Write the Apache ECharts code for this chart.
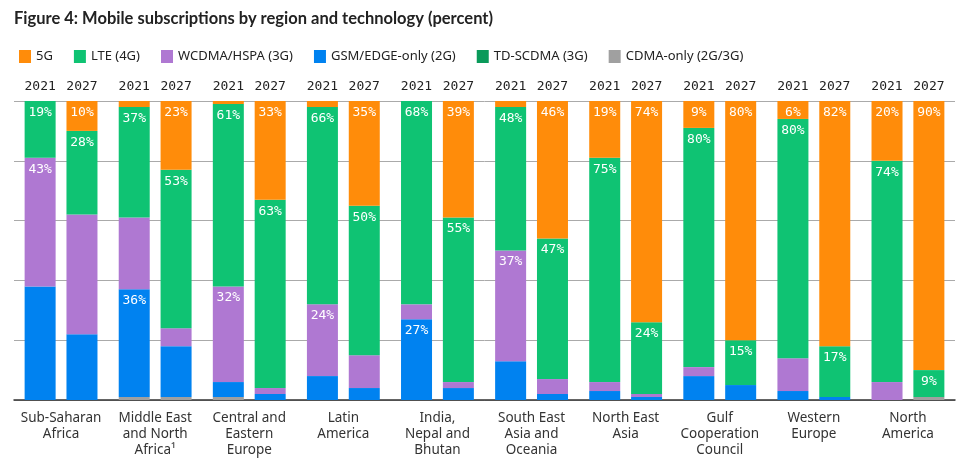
<!DOCTYPE html>
<html><head><meta charset="utf-8">
<script src="https://cdn.jsdelivr.net/npm/echarts@6/dist/echarts.min.js"></script>
<style>html,body{margin:0;padding:0;background:#fff}#c{width:960px;height:463px}</style>
</head><body><div id="c"></div>
<script>
const regions = ['Sub-Saharan\nAfrica','Middle East\nand North\nAfrica¹','Central and\nEastern\nEurope','Latin\nAmerica','India,\nNepal and\nBhutan','South East\nAsia and\nOceania','North East\nAsia','Gulf\nCooperation\nCouncil','Western\nEurope','North\nAmerica'];
const years = ['2021','2027'];
const techNames = ['5G','LTE (4G)','WCDMA/HSPA (3G)','GSM/EDGE-only (2G)','TD-SCDMA (3G)','CDMA-only (2G/3G)'];

// 2021 values (percent)
const g5_2021    = [0, 2, 1, 2, 0, 2, 19, 9, 6, 20];
const lte_2021   = [19, 37, 61, 66, 68, 48, 75, 80, 80, 74];
const wcdma_2021 = [43, 24, 32, 24, 5, 37, 3, 3, 11, 6];
const gsm_2021   = [38, 36, 5, 8, 27, 13, 3, 8, 3, 0];
const td_2021    = [0, 0, 0, 0, 0, 0, 0, 0, 0, 0];
const cdma_2021  = [0, 1, 1, 0, 0, 0, 0, 0, 0, 0];
// 2027 values (percent)
const g5_2027    = [10, 23, 33, 35, 39, 46, 74, 80, 82, 90];
const lte_2027   = [28, 53, 63, 50, 55, 47, 24, 15, 17, 9];
const wcdma_2027 = [40, 6, 2, 11, 2, 5, 1, 0, 0, 0];
const gsm_2027   = [22, 17, 2, 4, 4, 2, 1, 5, 1, 0];
const td_2027    = [0, 0, 0, 0, 0, 0, 0, 0, 0, 0];
const cdma_2027  = [0, 1, 0, 0, 0, 0, 0, 0, 0, 1];

// which segments carry a value label (region indices)
const labeled = {
  '2021': {g5:[6,7,8,9], lte:[0,1,2,3,4,5,6,7,8,9], wcdma:[0,2,3,5], gsm:[1,4], td:[], cdma:[]},
  '2027': {g5:[0,1,2,3,4,5,6,7,8,9], lte:[0,1,2,3,4,5,6,7,8,9], wcdma:[], gsm:[], td:[], cdma:[]}
};

const colors = {g5:'#FF8C0A', lte:'#0FC373', wcdma:'#AF78D2', gsm:'#0082F0', td:'#0A9A5A', cdma:'#A0A0A0'};
const dataSets = {
  '2021': {g5:g5_2021, lte:lte_2021, wcdma:wcdma_2021, gsm:gsm_2021, td:td_2021, cdma:cdma_2021},
  '2027': {g5:g5_2027, lte:lte_2027, wcdma:wcdma_2027, gsm:gsm_2027, td:td_2027, cdma:cdma_2027}
};
const keyName = {g5:techNames[0], lte:techNames[1], wcdma:techNames[2], gsm:techNames[3], td:techNames[4], cdma:techNames[5]};
const stackOrder = ['cdma','gsm','wcdma','td','lte','g5'];

const series = [];
years.forEach(function(y){
  stackOrder.forEach(function(k){
    series.push({
      name: keyName[k], type:'bar', stack:y, barWidth:31, barGap:'35%',
      itemStyle:{color:colors[k]},
      data: dataSets[y][k].map(function(v,i){
        const show = labeled[y][k].indexOf(i) >= 0;
        return {value:v, label:{show:show}};
      }),
      label:{position:'insideTop', distance:5, color:'#fff', fontFamily:'DejaVu Sans Mono', fontSize:13, formatter:'{c}%'}
    });
  });
  series.push({
    name:'year'+y, type:'bar', stack:y, barWidth:31, barGap:'35%',
    data: regions.map(function(){return 0;}),
    itemStyle:{color:'transparent'},
    label:{show:true, position:'top', distance:8, formatter:y, color:'#222', fontFamily:'DejaVu Sans Mono', fontSize:13}
  });
});

const chart = echarts.init(document.getElementById('c'), null, {renderer:'canvas'});
chart.setOption({
  animation:false,
  backgroundColor:'#fff',
  title:{text:'Figure 4: Mobile subscriptions by region and technology (percent)', left:9, top:5,
    textStyle:{fontFamily:'Lato', fontSize:16.5, fontWeight:'bold', color:'#222'}},
  legend:{data:techNames, left:14, top:45, icon:'rect', itemWidth:12, itemHeight:13, itemGap:21,
    textStyle:{fontFamily:'Noto Sans', fontSize:13, color:'#222'}},
  grid:{left:14, right:5, top:101, bottom:63},
  xAxis:{type:'category', data:regions,
    axisLine:{lineStyle:{color:'#333', width:1.5}}, axisTick:{show:false},
    axisLabel:{interval:0, margin:10, color:'#333', fontFamily:'Noto Sans', fontSize:13.5, lineHeight:16}},
  yAxis:{type:'value', min:0, max:100, interval:20, axisLabel:{show:false}, axisLine:{show:false}, axisTick:{show:false},
    splitLine:{lineStyle:{color:'#aaa', width:1}}},
  series: series
});
</script></body></html>
